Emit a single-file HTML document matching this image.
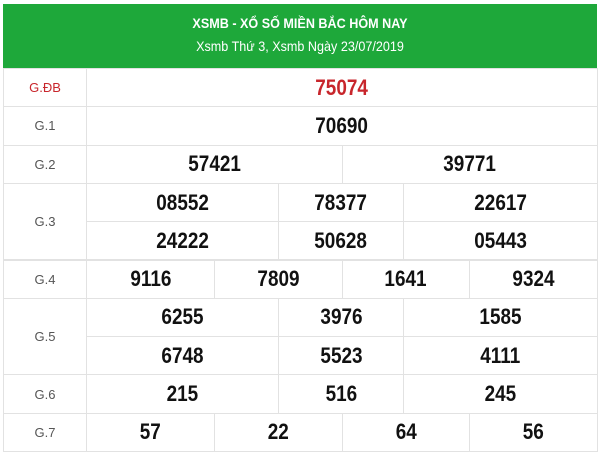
<!DOCTYPE html>
<html><head><meta charset="utf-8"><style>
body{margin:0;width:600px;height:458px;background:#fff;font-family:"Liberation Sans",sans-serif;overflow:hidden;position:relative}
.hd{position:absolute;left:3px;top:4px;width:594px;height:64px;background:#1ea83a;color:#fff;text-align:center}
.t1{position:absolute;top:11px;width:100%;font-weight:bold;font-size:14px;transform:scaleX(.9)}
.t2{position:absolute;top:34px;width:100%;font-size:14px;transform:scaleX(.9)}
.c{position:absolute;box-sizing:border-box;border:1px solid #e2e2e2;display:flex;align-items:center;justify-content:center}
.lab{color:#555;font-size:13px}
.num{font-weight:bold;font-size:22px;color:#111;transform:scaleX(.86)}
</style></head><body>
<div class="hd">
<div class="t1">XSMB - XỔ SỐ MIỀN BẮC HÔM NAY</div>
<div class="t2">Xsmb Thứ 3, Xsmb Ngày 23/07/2019</div>
</div>
<div id="tbl"></div>
<script>
const rows=[
["G.ĐB",[["75074"]]],
["G.1",[["70690"]]],
["G.2",[["57421","39771"]]],
["G.3",[["08552","78377","22617"],["24222","50628","05443"]]],
["G.4",[["9116","7809","1641","9324"]]],
["G.5",[["6255","3976","1585"],["6748","5523","4111"]]],
["G.6",[["215","516","245"]]],
["G.7",[["57","22","64","56"]]]];
const tbl=document.getElementById('tbl');
let y=68;const RH=38.3,L=3,LW=83,R=597;
const three=[86,278,403,597];
function cell(x,yy,w,h,txt,cls,name,color){
 const d=document.createElement('div');d.className='c';
 d.style.cssText=`left:${x}px;top:${yy}px;width:${w+1}px;height:${h+1}px`;
 const s=document.createElement('span');s.className=cls;s.textContent=txt;if(color)s.style.color=color;
 
 
 d.appendChild(s);
 
 
 tbl.appendChild(d);}
rows.forEach((r,i)=>{
 const h=RH*r[1].length;
 cell(L,y,LW,h,r[0],'lab','prize-label',i==0?'#c8262c':null);
 r[1].forEach((sub,j)=>{
  sub.forEach((n,k)=>{
   let x0,x1;
   if(sub.length==3){x0=three[k];x1=three[k+1];}
   else{const w=(R-L-LW)/sub.length;x0=L+LW+k*w;x1=x0+w;}
   cell(x0,y+j*RH,x1-x0,RH,n,'num','prize-number',i==0?'#c8262c':null);
  });
 });
 y+=h;});
</script>
</body></html>
